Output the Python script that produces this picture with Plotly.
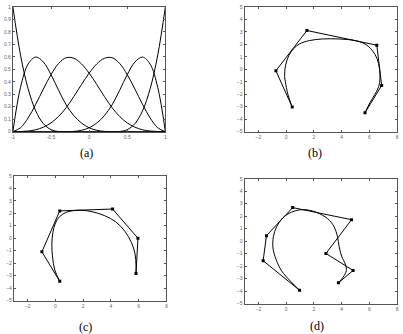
import plotly.graph_objects as go

# ---------- (a) basis functions ----------
a_x = [-1.0, -0.9, -0.8, -0.7, -0.6, -0.5, -0.4, -0.3, -0.2, -0.1, 0.0,
       0.1, 0.2, 0.3, 0.4, 0.5, 0.6, 0.7, 0.8, 0.9, 1.0]
a_n0 = [1.0, 0.614, 0.343, 0.166, 0.064, 0.016, 0.001, 0, 0, 0, 0,
        0, 0, 0, 0, 0, 0, 0, 0, 0, 0]
a_n1 = [0.0, 0.355, 0.542, 0.598, 0.558, 0.457, 0.331, 0.214, 0.128, 0.069, 0.031,
        0.011, 0.002, 0, 0, 0, 0, 0, 0, 0, 0]
a_n2 = [0.0, 0.031, 0.110, 0.220, 0.342, 0.457, 0.547, 0.593, 0.588, 0.543, 0.469,
        0.378, 0.282, 0.193, 0.122, 0.070, 0.036, 0.015, 0.005, 0.001, 0.0]
a_n3 = a_n2[::-1]
a_n4 = a_n1[::-1]
a_n5 = a_n0[::-1]
a_xticks = [-1, -0.5, 0, 0.5, 1]
a_xlabels = ["-1", "-0.5", "0", "0.5", "1"]
a_yticks = [0, 0.1, 0.2, 0.3, 0.4, 0.5, 0.6, 0.7, 0.8, 0.9, 1]
a_ylabels = ["0", "0.1", "0.2", "0.3", "0.4", "0.5", "0.6", "0.7", "0.8", "0.9", "1"]

# ---------- (b) ----------
b_ctrl_x = [0.44, -0.74, 1.50, 6.54, 6.89, 5.69]
b_ctrl_y = [-3.03, -0.12, 3.11, 1.93, -1.30, -3.48]
b_curve_x = [0.44, 0.13, -0.06, -0.11, -0.04, 0.20, 0.53, 0.96, 1.67, 2.61, 3.79,
             4.98, 5.69, 6.21, 6.56, 6.73, 6.77, 6.68, 6.39, 6.04, 5.69]
b_curve_y = [-3.03, -2.03, -0.98, -0.59, 0.33, 1.12, 1.64, 2.03, 2.30, 2.43, 2.43,
             2.30, 2.03, 1.51, 0.85, 0.07, -0.72, -1.38, -2.03, -2.69, -3.48]

# ---------- (c) ----------
c_ctrl_x = [0.31, -0.98, 0.31, 4.12, 5.95, 5.81]
c_ctrl_y = [-3.46, -1.09, 2.19, 2.34, 0.0, -2.84]
c_curve_x = [0.31, -0.05, -0.21, -0.26, -0.19, 0.0, 0.31, 0.79, 1.62, 2.57, 3.52,
             4.36, 5.0, 5.48, 5.74, 5.81, 5.81]
c_curve_y = [-3.46, -2.55, -1.51, -0.47, 0.44, 1.22, 1.74, 2.08, 2.24, 2.14, 1.82,
             1.30, 0.57, -0.34, -1.25, -2.16, -2.84]

# ---------- (d) ----------
d_ctrl_x = [0.97, -1.66, -1.42, 0.47, 4.72, 2.87, 4.83, 3.77]
d_ctrl_y = [-3.94, -1.57, 0.44, 2.69, 1.72, -0.99, -2.35, -3.34]
d_curve_x = [0.97, 0.31, -0.33, -0.73, -0.95, -0.92, -0.69, -0.26, 0.38, 1.21,
             2.16, 2.99, 3.46, 3.70, 3.82, 4.0, 4.29, 4.34, 4.10, 3.77]
d_curve_y = [-3.94, -3.21, -2.38, -1.46, -0.55, 0.37, 1.15, 1.85, 2.32, 2.53,
             2.32, 1.80, 1.15, 0.37, -0.42, -1.20, -1.91, -2.38, -2.90, -3.34]

xy_ticks_x = [-2, 0, 2, 4, 6, 8]
xy_ticks_y = [-5, -4, -3, -2, -1, 0, 1, 2, 3, 4, 5]
xy_range_x = [-3, 8]
xy_range_y = [-5, 5]

panel_labels = ["(a)", "(b)", "(c)", "(d)"]

W, H = 403, 334
fig = go.Figure()

LINE = dict(color="black", width=1)
for ys in [a_n0, a_n1, a_n2, a_n3, a_n4, a_n5]:
    fig.add_trace(go.Scatter(x=a_x, y=ys, mode="lines", line=dict(color="black", width=1, shape="spline", smoothing=1.0),
                             xaxis="x", yaxis="y", showlegend=False, hoverinfo="skip"))

panels = [("x2", "y2", b_ctrl_x, b_ctrl_y, b_curve_x, b_curve_y),
          ("x3", "y3", c_ctrl_x, c_ctrl_y, c_curve_x, c_curve_y),
          ("x4", "y4", d_ctrl_x, d_ctrl_y, d_curve_x, d_curve_y)]
for xa, ya, cx, cy, kx, ky in panels:
    fig.add_trace(go.Scatter(x=cx, y=cy, mode="lines+markers", line=LINE,
                             marker=dict(symbol="square", size=3, color="black"),
                             xaxis=xa, yaxis=ya, showlegend=False, hoverinfo="skip"))
    fig.add_trace(go.Scatter(x=kx, y=ky, mode="lines",
                             line=dict(color="black", width=1, shape="spline", smoothing=1.0),
                             xaxis=xa, yaxis=ya, showlegend=False, hoverinfo="skip"))

def px_dom_x(l, r):
    return [l / W, r / W]

def px_dom_y(t, b):
    return [1 - b / H, 1 - t / H]

axis_common = dict(showgrid=False, zeroline=False, showline=True, linecolor="#555555", linewidth=1,
                   mirror="ticks", ticks="inside", ticklen=2, tickcolor="#555555",
                   tickfont=dict(family="Arial", size=5, color="#666666"))

layout = dict(width=W, height=H, margin=dict(l=0, r=0, t=0, b=0),
              paper_bgcolor="white", plot_bgcolor="white", showlegend=False)

layout["xaxis"] = dict(axis_common, domain=px_dom_x(11, 165), range=[-1, 1], anchor="y",
                       tickvals=a_xticks, ticktext=a_xlabels)
layout["yaxis"] = dict(axis_common, domain=px_dom_y(4, 131), range=[0, 1], anchor="x",
                       tickvals=a_yticks, ticktext=a_ylabels)

doms = {"2": ((245, 399), (4, 131)), "3": ((12, 166), (176, 303)), "4": ((245, 399), (179, 306))}
for k, ((l, r), (t, b)) in doms.items():
    layout["xaxis" + k] = dict(axis_common, domain=px_dom_x(l, r), range=xy_range_x, anchor="y" + k,
                               tickvals=xy_ticks_x)
    layout["yaxis" + k] = dict(axis_common, domain=px_dom_y(t, b), range=xy_range_y, anchor="x" + k,
                               tickvals=xy_ticks_y)

fig.update_layout(**layout)

label_pos = [(85, 153), (316, 153), (84, 330), (318, 329)]
for txt, (lx, ly) in zip(panel_labels, label_pos):
    fig.add_annotation(text=txt, x=lx / W, y=1 - ly / H, xref="paper", yref="paper",
                       showarrow=False, xanchor="center", yanchor="middle",
                       font=dict(family="Liberation Serif, Times New Roman, DejaVu Serif, serif", size=12, color="black"))

fig.write_html("out.html")
